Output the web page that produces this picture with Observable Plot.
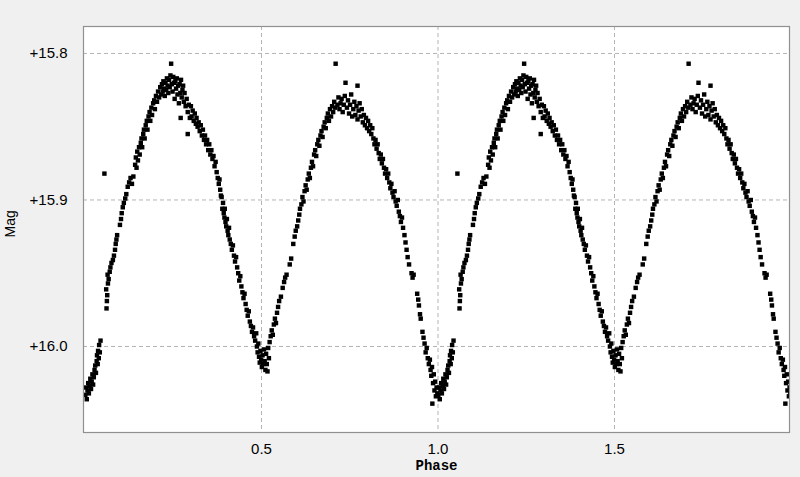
<!DOCTYPE html>
<html><head><meta charset="utf-8">
<script src="https://cdn.jsdelivr.net/npm/d3@7"></script>
<script src="https://cdn.jsdelivr.net/npm/@observablehq/plot@0.6"></script>
<style>
html,body{margin:0;padding:0;background:#f0f0f0;}
#chart svg{display:block;}
</style></head><body><div id="chart"></div>
<script>
// Phase-folded light curve (one cycle, plotted twice: phase and phase+1)
const phase = [
  0.001,0.003,0.005,0.007,0.009,0.011,0.013,0.015,0.017,0.019,0.021,0.023,0.025,0.027,0.029,0.031,0.033,0.034,0.036,0.037,0.039,0.040,0.042,0.044,
  0.055,0.061,0.062,0.063,0.060,0.065,0.067,0.064,0.070,0.072,0.075,0.079,0.082,0.085,0.087,0.089,0.091,0.099,0.102,0.104,0.107,0.110,0.114,0.117,0.121,0.125,0.129,0.133,0.137,
  0.142,0.144,0.146,0.148,0.150,0.153,0.155,0.158,0.160,0.162,0.165,0.167,0.169,0.172,0.175,0.177,0.180,0.183,0.185,0.188,0.190,0.193,0.196,0.198,0.201,0.204,0.207,0.210,
  0.213,0.216,0.218,0.220,0.222,0.224,0.226,0.228,0.230,0.232,0.234,0.236,0.238,0.240,0.242,0.244,0.246,0.248,0.250,0.252,0.254,0.256,0.258,0.260,0.262,0.264,0.266,0.268,0.270,0.272,0.274,0.276,0.278,0.280,0.282,0.285,0.288,0.291,0.294,0.297,0.271,
  0.300,0.302,0.305,0.308,0.311,0.314,0.316,0.291,0.319,0.322,0.325,0.328,0.331,0.334,0.337,0.340,0.343,0.346,0.349,0.352,0.355,0.358,0.361,0.364,0.367,0.370,0.373,0.376,0.379,0.381,0.383,0.385,
  0.387,0.389,0.391,0.393,0.395,0.396,0.398,0.400,0.402,0.404,0.406,0.408,0.410,0.413,0.416,0.419,0.422,0.425,0.428,0.431,0.434,0.437,0.440,0.443,0.446,0.449,0.452,0.455,0.458,0.461,0.464,0.467,0.470,
  0.473,0.476,0.479,0.482,0.485,0.487,0.489,0.491,0.493,0.495,0.497,0.499,0.501,0.503,0.505,0.507,0.509,0.511,0.513,0.515,0.517,0.519,0.521,0.523,
  0.526,0.529,0.532,0.535,0.538,0.541,0.544,0.547,0.550,0.555,0.560,0.564,0.567,0.571,0.580,0.584,0.590,0.594,0.597,0.601,0.604,0.607,0.609,0.613,0.616,0.619,0.622,0.625,0.628,0.631,0.634,0.637,0.640,0.643,0.646,0.649,0.652,0.655,0.658,0.661,0.664,0.667,0.670,0.673,0.676,0.679,0.682,0.685,0.688,0.691,0.694,0.697,0.700,0.703,0.706,0.709,0.710,0.715,0.718,0.721,0.724,
  0.727,0.730,0.733,0.736,0.738,0.742,0.745,0.748,0.751,0.754,0.757,0.772,0.760,0.763,0.766,0.769,0.772,0.775,0.778,0.781,0.784,0.787,0.790,0.793,0.796,0.799,0.802,0.805,0.808,0.811,
  0.814,0.817,0.820,0.823,0.826,0.829,0.832,0.835,0.838,0.841,0.844,0.847,0.850,0.853,0.856,0.859,0.862,0.865,0.868,0.871,0.874,0.877,0.880,0.883,0.886,0.889,0.892,0.895,0.898,0.901,0.905,0.908,0.911,0.914,0.918,0.925,0.928,0.931,0.941,0.944,0.946,0.949,0.951,0.956,0.959,0.962,0.965,0.968,0.971,0.974,0.977,0.979,0.981,0.983,0.984,0.986,0.988,0.990,0.992,0.994,0.996,0.998
];
const mag = [
  16.033,16.028,16.036,16.030,16.025,16.032,16.027,16.022,16.029,16.024,16.019,16.026,16.021,16.016,16.013,16.018,16.010,16.006,16.012,16.003,16.008,15.999,16.004,15.996,
  15.882,15.974,15.969,15.965,15.961,15.957,15.954,15.951,15.949,15.946,15.943,15.941,15.938,15.934,15.930,15.927,15.924,15.917,15.913,15.909,15.905,15.902,15.899,15.896,15.891,15.888,15.885,15.889,15.884,
  15.876,15.871,15.878,15.867,15.873,15.864,15.869,15.861,15.858,15.864,15.855,15.852,15.858,15.849,15.846,15.852,15.843,15.840,15.846,15.837,15.842,15.834,15.832,15.838,15.829,15.833,15.826,15.830,
  15.823,15.828,15.821,15.826,15.819,15.824,15.829,15.820,15.825,15.817,15.822,15.827,15.818,15.823,15.815,15.807,15.821,15.826,15.816,15.820,15.831,15.819,15.824,15.817,15.828,15.822,15.834,15.821,15.827,15.818,15.830,15.825,15.822,15.833,15.827,15.836,15.831,15.840,15.835,15.844,15.844,
  15.836,15.843,15.839,15.846,15.841,15.848,15.844,15.855,15.850,15.847,15.853,15.849,15.856,15.852,15.859,15.856,15.862,15.859,15.866,15.862,15.869,15.866,15.872,15.870,15.877,15.874,15.881,15.885,15.889,15.886,15.893,15.897,
  15.898,15.906,15.902,15.909,15.912,15.906,15.915,15.918,15.913,15.921,15.924,15.919,15.927,15.930,15.934,15.931,15.938,15.942,15.939,15.946,15.950,15.955,15.952,15.959,15.963,15.967,15.964,15.971,15.975,15.979,15.976,15.983,15.986,
  15.990,15.987,15.993,15.996,15.991,16.000,16.004,15.998,16.007,16.011,16.003,16.009,16.014,16.006,16.012,16.002,16.010,16.016,16.005,16.012,16.017,16.001,16.008,15.997,
  15.993,15.989,15.992,15.985,15.981,15.984,15.977,15.973,15.969,15.966,15.960,15.956,15.953,15.951,15.944,15.940,15.930,15.925,15.921,15.918,15.914,15.910,15.906,15.903,15.898,15.901,15.894,15.890,15.893,15.886,15.882,15.885,15.878,15.874,15.877,15.869,15.866,15.870,15.862,15.859,15.863,15.856,15.853,15.857,15.850,15.847,15.851,15.844,15.841,15.846,15.838,15.843,15.836,15.840,15.833,15.837,15.807,15.835,15.830,15.838,15.834,
  15.831,15.840,15.835,15.829,15.820,15.837,15.832,15.841,15.835,15.828,15.843,15.822,15.838,15.833,15.842,15.836,15.845,15.839,15.834,15.843,15.838,15.847,15.842,15.849,15.844,15.851,15.846,15.853,15.849,15.855,
  15.851,15.858,15.862,15.859,15.865,15.862,15.868,15.872,15.869,15.875,15.872,15.878,15.882,15.879,15.885,15.882,15.888,15.892,15.889,15.895,15.898,15.894,15.901,15.904,15.900,15.908,15.911,15.915,15.912,15.919,15.924,15.929,15.934,15.939,15.944,15.950,15.953,15.951,15.964,15.968,15.972,15.978,15.981,15.990,15.994,15.998,16.004,16.001,16.008,16.012,16.009,16.016,16.020,16.014,16.039,16.025,16.019,16.030,16.024,16.034,16.028,16.032
];
const cycles = [0, 1];
const xTicks = [0.5, 1.0, 1.5];
const yTicks = [15.8, 15.9, 16.0];
const xLabel = "Phase";
const yLabel = "Mag";

const n = Math.min(phase.length, mag.length);
const points = cycles.flatMap(c => phase.slice(0, n).map((p, i) => ({phase: p + c, mag: mag[i]})));

const chart = Plot.plot({
  width: 800,
  height: 477,
  marginLeft: 83,
  marginRight: 11,
  marginTop: 26,
  marginBottom: 45,
  style: {background: "#f0f0f0", fontFamily: "'Liberation Sans', Arial, sans-serif", fontSize: "15px", color: "#000"},
  x: {domain: [-0.00425, 1.99575]},
  y: {domain: [15.7816, 16.0587], reverse: true},
  marks: [
    Plot.frame({fill: "white", stroke: "none"}),
    Plot.gridX(xTicks, {stroke: "#b4b4b4", strokeOpacity: 1, strokeDasharray: "4,3"}),
    Plot.gridY(yTicks, {stroke: "#b4b4b4", strokeOpacity: 1, strokeDasharray: "4,3"}),
    Plot.dot(points, {x: "phase", y: "mag", symbol: "square", r: 2.5, fill: "#000", stroke: "none", clip: true}),
    Plot.frame({stroke: "#909090", strokeWidth: 1.2}),
    Plot.axisX(xTicks, {tickSize: 0, tickPadding: 11, tickFormat: d => d.toFixed(1), label: null, fontSize: 15}),
    Plot.axisY(yTicks, {tickSize: 0, tickPadding: 16, tickFormat: d => "+" + d.toFixed(1), label: null, fontSize: 15}),
    Plot.text([xLabel], {text: d => d, frameAnchor: "bottom", dy: 28, lineAnchor: "top", fontFamily: "'Liberation Mono', monospace", fontWeight: "bold", fontSize: 14}),
    Plot.text([yLabel], {text: d => d, frameAnchor: "left", rotate: -90, dx: -78, dy: 8, lineAnchor: "top", fontSize: 14})
  ]
});
document.getElementById("chart").appendChild(chart);
</script>
</body></html>
